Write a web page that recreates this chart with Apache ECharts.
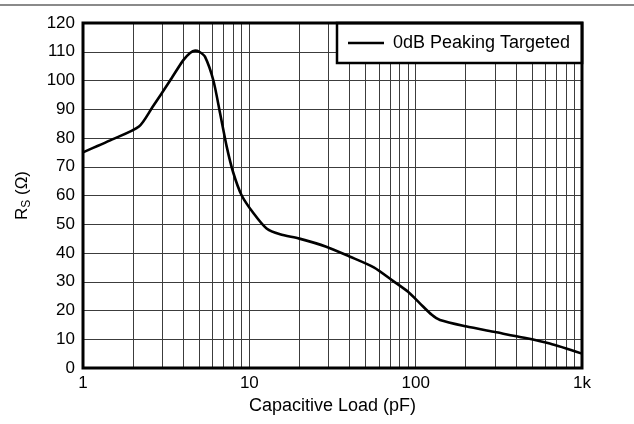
<!DOCTYPE html>
<html><head><meta charset="utf-8">
<script src="https://cdn.jsdelivr.net/npm/echarts@6/dist/echarts.min.js"></script>
<style>html,body{margin:0;padding:0;background:#fff}#c{width:634px;height:424px}</style>
</head><body><div id="c"></div>
<script>
const capacitance = [1, 1.5, 2.17, 2.6, 3.34, 4.0, 4.4, 4.72, 5.0, 5.41, 6.08, 6.67, 7.31, 8.0, 9.0, 10.6, 12.7, 15.3, 20, 29, 40, 56, 73, 90, 106, 125, 140, 200, 300, 450, 640, 1000];
const rsValues = [75, 79.5, 84, 90.5, 100, 107, 109.6, 110.4, 110, 108.3, 100, 88.6, 77, 68, 60, 53.8, 48.5, 46.5, 45, 42.2, 38.8, 35.0, 30.3, 26.5, 22.5, 18.5, 16.7, 14.5, 12.5, 10.5, 8.5, 5];
const minorTicks = [2,3,4,5,6,7,8,9,20,30,40,50,60,70,80,90,200,300,400,500,600,700,800,900];
const seriesName = '0dB Peaking Targeted';
const xTickLabels = {1:'1', 10:'10', 100:'100', 1000:'1k'};

const font = "'Liberation Sans', Arial, sans-serif";
const gridColor = '#3c3c3c';
const chart = echarts.init(document.getElementById('c'), null, {renderer:'canvas'});
chart.setOption({
  animation:false,
  backgroundColor:'#fff',
  graphic:[{type:'rect', shape:{x:0,y:4,width:634,height:2}, style:{fill:'#8a8a8a'}, silent:true}],
  grid:{left:83, right:52, top:23, bottom:56, show:true, borderColor:'#000', borderWidth:3, z:10},
  legend:{
    left:337, top:23, orient:'horizontal',
    backgroundColor:'#fff', borderColor:'#000', borderWidth:2.5,
    padding:[11, 12, 11, 11],
    itemWidth:36, itemHeight:14,
    data:[{name:seriesName, icon:'path://M0,6H36V8.5H0Z'}],
    textStyle:{fontFamily:font, fontSize:18, color:'#000', padding:[0,0,0,4]},
    itemStyle:{color:'#000'}
  },
  xAxis:{
    type:'log', logBase:10, min:1, max:1000,
    name:'Capacitive Load (pF)', nameLocation:'middle', nameGap:25,
    nameTextStyle:{fontFamily:font, fontSize:18, color:'#000', verticalAlign:'top'},
    axisLine:{show:false}, axisTick:{show:false},
    axisLabel:{fontFamily:font, fontSize:17, color:'#000', margin:7, formatter:v=>xTickLabels[Math.round(v)] || ''},
    splitLine:{show:true, lineStyle:{color:gridColor, width:1}},
    minorSplitLine:{show:false}
  },
  yAxis:{
    type:'value', min:0, max:120, interval:10,
    name:'{a|R}{b|S}{a| (Ω)}', nameLocation:'middle', nameGap:50, nameRotate:90,
    nameTextStyle:{rich:{a:{fontFamily:font, fontSize:17, color:'#000'}, b:{fontFamily:font, fontSize:12, color:'#000', padding:[9,0,0,0]}}},
    axisLine:{show:false}, axisTick:{show:false},
    axisLabel:{fontFamily:font, fontSize:17, color:'#000', margin:8},
    splitLine:{show:true, lineStyle:{color:gridColor, width:1}}
  },
  series:[{
    name:seriesName, type:'line', smooth:0.25, symbol:'none',
    data:capacitance.map((c,i)=>[c, rsValues[i]]),
    lineStyle:{color:'#000', width:2.6}, itemStyle:{color:'#000'}, z:5,
    markLine:{
      silent:true, symbol:'none', label:{show:false},
      lineStyle:{color:gridColor, width:1, type:'solid'},
      data:minorTicks.map(v=>({xAxis:v})), z:1
    }
  }]
});
</script></body></html>
